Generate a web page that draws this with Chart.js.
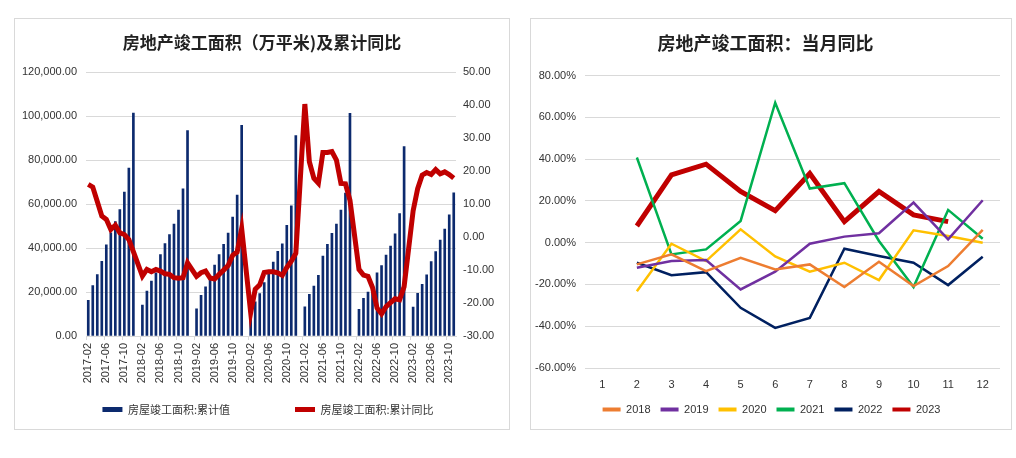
<!DOCTYPE html>
<html>
<head>
<meta charset="utf-8">
<script src="https://cdn.jsdelivr.net/npm/chart.js@4.4.0/dist/chart.umd.min.js"></script>
<style>
  body { margin: 0; background: #fff; }
  .panel { position: absolute; border: 1px solid #d9d9d9; background: #fff; }
  #left-panel { left: 14px; top: 18px; width: 494px; height: 410px; }
  #right-panel { left: 530px; top: 18px; width: 480px; height: 410px; }
</style>
</head>
<body>
<div class="panel" id="left-panel"><canvas id="area-chart" width="494" height="410"></canvas></div>
<div class="panel" id="right-panel"><canvas id="month-chart" width="480" height="410"></canvas></div>
<script>
// cumulative completed area (万平米), Feb..Dec of each year (Jan-Feb reported together)
var years = [2017, 2018, 2019, 2020, 2021, 2022, 2023];
var area2017 = [16200, 23000, 28000, 34000, 41500, 47000, 52100, 57600, 65500, 76400, 101486];
var area2018 = [14100, 20500, 25000, 28800, 37100, 42100, 46200, 51000, 57300, 67000, 93550];
var area2019 = [12400, 18500, 22400, 26500, 32300, 37100, 41700, 46800, 54100, 64100, 95942];
var area2020 = [10241, 15557, 19286, 24365, 29311, 33691, 38494, 42000, 50426, 59286, 91218];
var area2021 = [13300, 19000, 22700, 27600, 36400, 41700, 46700, 51000, 57300, 65100, 101412];
var area2022 = [12100, 17100, 20000, 23400, 28800, 32100, 36800, 40900, 46500, 55700, 86222];
var area2023 = [13200, 19400, 23500, 27800, 33900, 38400, 43700, 48700, 55200, 65200];

// cumulative yoy (%)
var yoy2017 = [16.0, 15.2, 10.8, 6.4, 5.4, 2.3, 3.6, 1.3, 0.8, -0.7, -4.4];
var yoy2018 = [-11.8, -9.8, -10.5, -9.8, -10.3, -11.1, -11.3, -12.3, -12.5, -12.3, -7.8];
var yoy2019 = [-11.9, -10.8, -10.3, -12.4, -12.7, -11.3, -10.0, -8.6, -5.5, -4.5, 2.6];
var yoy2020 = [-22.9, -15.8, -14.5, -10.7, -10.5, -10.5, -10.8, -11.6, -9.2, -7.3, -4.9];
var yoy2021 = [40.4, 22.9, 17.9, 16.4, 25.7, 25.7, 26.0, 23.4, 16.3, 16.2, 11.2];
var yoy2022 = [-9.8, -11.5, -11.9, -15.3, -21.5, -23.3, -21.1, -19.9, -18.7, -19.0, -15.0];
var yoy2023 = [8.0, 14.7, 18.8, 19.6, 19.0, 20.5, 19.2, 19.8, 19.0, 17.9];

var areaTicks = [0, 20000, 40000, 60000, 80000, 100000, 120000];
var yoyTicks = [-30, -20, -10, 0, 10, 20, 30, 40, 50];

// monthly yoy (%), months 1..12
var months = ["1", "2", "3", "4", "5", "6", "7", "8", "9", "10", "11", "12"];
var m2018 = [null, -10.4, -5.6, -13.6, -7.2, -12.8, -10.4, -21.2, -9.1, -20.8, -11.2, 6.1];
var m2019 = [null, -12.0, -8.8, -8.3, -22.4, -13.9, -0.5, 2.9, 4.5, 19.2, 1.6, 20.3];
var m2020 = [null, -23.2, -0.5, -8.8, 6.4, -6.6, -13.9, -9.6, -17.9, 5.9, 3.2, 0.0];
var m2021 = [null, 40.8, -5.6, -3.2, 10.4, 67.0, 25.9, 28.5, 0.8, -21.2, 15.7, 1.9];
var m2022 = [null, -9.6, -15.6, -14.1, -31.2, -40.8, -36.0, -2.9, -6.4, -9.6, -20.3, -6.7];
var m2023 = [null, 8.0, 32.5, 37.6, 24.5, 15.3, 33.1, 10.1, 24.5, 13.3, 10.1, null];
var monthTicks = [-60, -40, -20, 0, 20, 40, 60, 80];

var areaByYear = [area2017, area2018, area2019, area2020, area2021, area2022, area2023];
var yoyByYear = [yoy2017, yoy2018, yoy2019, yoy2020, yoy2021, yoy2022, yoy2023];

var labels = [], areaData = [], yoyData = [];
years.forEach(function(y, k) {
  for (var m = 1; m <= 12; m++) {
    if (y === 2017 && m === 1) continue;
    var v = m === 1 ? null : areaByYear[k][m - 2];
    if (v === undefined) break;
    labels.push(y + "-" + (m < 10 ? "0" + m : m));
    areaData.push(v);
    yoyData.push(m === 1 ? null : yoyByYear[k][m - 2]);
  }
});

var tickFont = { family: "'Liberation Sans', Arial, sans-serif", size: 11 };
var cjk = "'Noto Sans CJK SC', 'Liberation Sans', sans-serif";
var gridColor = '#d9d9d9';
var baseLegend = Chart.defaults.plugins.legend.labels.generateLabels;

// nudge the legend sideways, the source legends are not quite centred
var legendShift = {
  id: 'legendShift',
  afterLayout: function(chart, args, opts) {
    chart.legend.left += opts.dx;
    chart.legend.right += opts.dx;
  }
};

new Chart(document.getElementById("area-chart"), {
  type: 'bar',
  plugins: [legendShift],
  data: {
    labels: labels,
    datasets: [{
      label: '房屋竣工面积:累计值',
      data: areaData,
      backgroundColor: '#0c2a6e',
      barThickness: 2,
      yAxisID: 'y',
      order: 1
    }, {
      type: 'line',
      label: '房屋竣工面积:累计同比',
      data: yoyData,
      borderColor: '#c00000',
      backgroundColor: '#c00000',
      borderWidth: 5,
      pointRadius: 0,
      spanGaps: true,
      yAxisID: 'y1',
      order: 0
    }]
  },
  options: {
    responsive: false,
    animation: false,
    layout: { padding: { top: 9, left: 0, right: 0, bottom: 4 } },
    plugins: {
      legendShift: { dx: 6 },
      title: {
        display: true,
        text: '房地产竣工面积（万平米)及累计同比',
        color: '#222',
        font: { family: cjk, size: 17, weight: 'bold' },
        padding: { top: 4, bottom: 20 }
      },
      legend: {
        position: 'bottom',
        labels: {
          boxWidth: 20, boxHeight: 5, padding: 10, color: '#333',
          font: { family: cjk, size: 11 },
          sort: function(a, b) { return a.datasetIndex - b.datasetIndex; },
          generateLabels: function(chart) {
            var items = baseLegend(chart);
            items.forEach(function(it) {
              it.lineWidth = 0;
              if (it.datasetIndex === 0) it.text = it.text + '\u3000\u3000\u3000\u3000\u3000';
            });
            return items;
          }
        }
      },
      tooltip: { enabled: false }
    },
    scales: {
      x: {
        offset: true,
        grid: {
          drawOnChartArea: false, tickLength: 4,
          color: function(ctx) { return ctx.index % 4 === 0 ? gridColor : 'rgba(0,0,0,0)'; }
        },
        border: { color: gridColor },
        ticks: {
          autoSkip: false, maxRotation: 90, minRotation: 90, padding: 3,
          color: '#333', font: tickFont,
          callback: function(v, i) { return i % 4 === 0 ? labels[i] : ''; }
        },
        afterFit: function(s) { s.height = 58; }
      },
      y: {
        position: 'left', min: areaTicks[0], max: areaTicks[areaTicks.length - 1],
        grid: { color: gridColor, drawTicks: false },
        border: { display: false },
        ticks: {
          stepSize: 20000, padding: 9, color: '#333', font: tickFont,
          callback: function(v) { return v.toLocaleString('en-US', { minimumFractionDigits: 2 }); }
        },
        afterFit: function(s) { s.width = 71; }
      },
      y1: {
        position: 'right', min: yoyTicks[0], max: yoyTicks[yoyTicks.length - 1],
        grid: { display: false, drawTicks: false },
        border: { display: false },
        ticks: {
          stepSize: 10, padding: 7, color: '#333', font: tickFont,
          callback: function(v) { return v.toFixed(2); }
        },
        afterFit: function(s) { s.width = 53; }
      }
    }
  }
});

var seriesColors = ['#ed7d31', '#7030a0', '#ffc000', '#00b050', '#002060', '#c00000'];
var seriesNames = ['2018', '2019', '2020', '2021', '2022', '2023'];
var seriesData = [m2018, m2019, m2020, m2021, m2022, m2023];

new Chart(document.getElementById("month-chart"), {
  type: 'line',
  plugins: [legendShift],
  data: {
    labels: months,
    datasets: seriesData.map(function(d, i) {
      return {
        label: seriesNames[i],
        data: d,
        borderColor: seriesColors[i],
        backgroundColor: seriesColors[i],
        borderWidth: i === 5 ? 5 : 2.5,
        pointRadius: 0,
        tension: 0
      };
    })
  },
  options: {
    responsive: false,
    animation: false,
    layout: { padding: { top: 9, left: 0, right: 11, bottom: 4 } },
    plugins: {
      legendShift: { dx: 6 },
      title: {
        display: true,
        text: '房地产竣工面积：当月同比',
        color: '#222',
        font: { family: cjk, size: 18, weight: 'bold' },
        padding: { top: 4, bottom: 22 }
      },
      legend: {
        position: 'bottom',
        labels: {
          boxWidth: 18, boxHeight: 4, padding: 10, color: '#333',
          font: tickFont,
          generateLabels: function(chart) {
            var items = baseLegend(chart);
            items.forEach(function(it) { it.lineWidth = 0; });
            return items;
          }
        }
      },
      tooltip: { enabled: false }
    },
    scales: {
      x: {
        offset: true,
        grid: { display: false, drawTicks: false },
        border: { display: false },
        ticks: { padding: 10, color: '#333', font: tickFont },
        afterFit: function(s) { s.height = 26; }
      },
      y: {
        min: monthTicks[0], max: monthTicks[monthTicks.length - 1],
        grid: { color: gridColor, drawTicks: false },
        border: { display: false },
        ticks: {
          stepSize: 20, padding: 9, color: '#333', font: tickFont,
          callback: function(v) { return v.toFixed(2) + '%'; }
        },
        afterFit: function(s) { s.width = 54; }
      }
    }
  }
});
</script>
</body>
</html>
